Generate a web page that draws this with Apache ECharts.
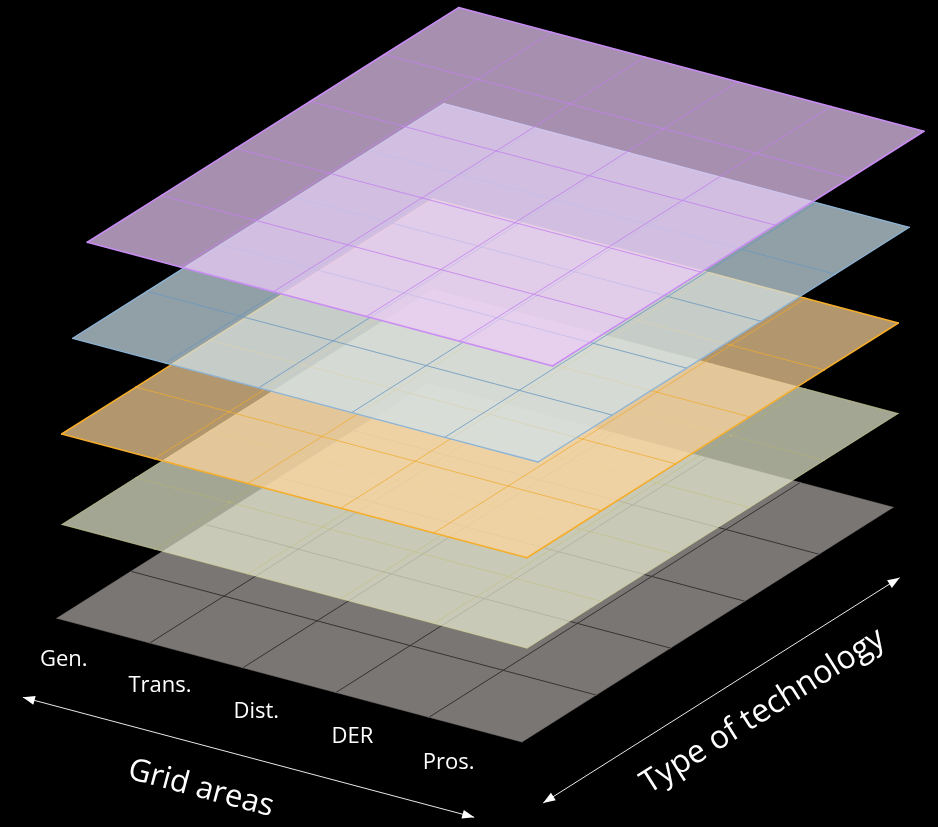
<!DOCTYPE html>
<html>
<head>
<meta charset="utf-8">
<script src="https://cdn.jsdelivr.net/npm/echarts@6/dist/echarts.min.js"></script>
<style>
  html, body { margin: 0; padding: 0; background: #000; }
  #chart { width: 938px; height: 827px; }
</style>
</head>
<body>
<div id="chart"></div>
<script>
// ---------- data ----------
const gridAreas = ['Gen.', 'Trans.', 'Dist.', 'DER', 'Pros.'];
const technologyRows = [0, 1, 2, 3, 4];
const layerNames = ['base', 'green', 'orange', 'blue', 'purple'];
const axisTitles = ['Grid areas', 'Type of technology'];

// ---------- layout (projection of the layered planes) ----------
const ORIGIN = [56.7, 618.3];
const E1 = [93.06, 24.74];   // one grid-area column
const E2 = [74.26, -46.94];  // one technology row
const LAYER_SHIFT = [[0, 0], [5, -93.8], [5, -184.3], [16, -280], [30.6, -376]];
function proj(u, v, k) {
  const s = LAYER_SHIFT[k || 0];
  return [ORIGIN[0] + u * E1[0] + v * E2[0] + s[0],
          ORIGIN[1] + u * E1[1] + v * E2[1] + s[1]];
}

const layerStyles = [
  { fill: '#7a7674', line: '#3a3838', lw: 1, border: '#7a7674', bw: 0.5 },
  { fill: 'rgba(233,237,211,0.70)', line: 'rgba(205,205,130,0.5)', lw: 1, border: 'rgba(215,215,150,0.6)', bw: 1 },
  { fill: 'rgba(254,214,157,0.70)', line: 'rgba(242,176,60,0.85)', lw: 1, border: '#f5ad2c', bw: 1.6 },
  { fill: 'rgba(207,226,236,0.70)', line: 'rgba(118,160,196,0.9)', lw: 1, border: '#8db4d6', bw: 1.3 },
  { fill: 'rgba(236,204,250,0.70)', line: 'rgba(198,136,240,0.9)', lw: 1, border: '#c98cf5', bw: 1.6 }
];

const NC = gridAreas.length, NR = technologyRows.length;

function seg(a, b, stroke, lw, z2) {
  return { type: 'line', z2: z2, shape: { x1: a[0], y1: a[1], x2: b[0], y2: b[1] },
           style: { stroke: stroke, lineWidth: lw, lineCap: 'round' } };
}

function renderCell(params, api) {
  const k = api.value(0), c = api.value(1), r = api.value(2);
  const st = layerStyles[k];
  const pt = (u, v) => api.coord(proj(u, v, k));
  const ch = [{
    type: 'polygon', z2: 0,
    shape: { points: [pt(c, r), pt(c + 1, r), pt(c + 1, r + 1), pt(c, r + 1)] },
    style: { fill: st.fill }
  }];
  if (c > 0) ch.push(seg(pt(c, r), pt(c, r + 1), st.line, st.lw, 1));
  if (r > 0) ch.push(seg(pt(c, r), pt(c + 1, r), st.line, st.lw, 1));
  if (c === 0) ch.push(seg(pt(0, r), pt(0, r + 1), st.border, st.bw, 2));
  if (c === NC - 1) ch.push(seg(pt(NC, r), pt(NC, r + 1), st.border, st.bw, 2));
  if (r === 0) ch.push(seg(pt(c, 0), pt(c + 1, 0), st.border, st.bw, 2));
  if (r === NR - 1) ch.push(seg(pt(c, NR), pt(c + 1, NR), st.border, st.bw, 2));
  return { type: 'group', children: ch };
}

const series = [];
layerNames.forEach((name, k) => {
  const cells = [];
  gridAreas.forEach((g, c) => technologyRows.forEach((t, r) => cells.push([k, c, r])));
  series.push({
    name: name, type: 'custom', coordinateSystem: 'cartesian2d',
    z: 10 + k, silent: true, animation: false,
    renderItem: renderCell, data: cells
  });
});

// grid-area labels
series.push({
  type: 'custom', coordinateSystem: 'cartesian2d', z: 30, silent: true, animation: false,
  data: gridAreas.map((g, i) => [i]),
  renderItem: function (params, api) {
    const i = api.value(0);
    const p = api.coord(proj(0.555 + i * 1.034, -0.6, 0));
    return { type: 'text', x: p[0], y: p[1],
      style: { text: gridAreas[i], fill: '#ffffff', font: '22px "Open Sans", "Noto Sans", sans-serif',
               align: 'center', verticalAlign: 'middle' } };
  }
});

// axis arrows and titles
const ARROWS = [
  { from: [0.69, -1.32], to: [5.54, -1.32], title: [3.13, -1.98], size: 31, rot: -Math.atan2(E1[1], E1[0]) },
  { from: [5.89, -0.83], to: [5.89, 3.97], title: [6.456, 1.42], size: 32, rot: Math.atan2(-E2[1], E2[0]) }
];
function head(tip, dir, len, hw) {
  const n = Math.hypot(dir[0], dir[1]);
  const d = [dir[0] / n, dir[1] / n];
  const b = [tip[0] - d[0] * len, tip[1] - d[1] * len];
  return { type: 'polygon', shape: { points: [tip, [b[0] - d[1] * hw, b[1] + d[0] * hw], [b[0] + d[1] * hw, b[1] - d[0] * hw]] },
           style: { fill: '#ffffff' } };
}
series.push({
  type: 'custom', coordinateSystem: 'cartesian2d', z: 30, silent: true, animation: false,
  data: axisTitles.map((t, i) => [i]),
  renderItem: function (params, api) {
    const i = api.value(0);
    const a = ARROWS[i];
    const p1 = api.coord(proj(a.from[0], a.from[1], 0));
    const p2 = api.coord(proj(a.to[0], a.to[1], 0));
    const tp = api.coord(proj(a.title[0], a.title[1], 0));
    const dir = [p2[0] - p1[0], p2[1] - p1[1]];
    return { type: 'group', children: [
      { type: 'line', shape: { x1: p1[0], y1: p1[1], x2: p2[0], y2: p2[1] }, style: { stroke: '#e8e8e8', lineWidth: 1 } },
      head(p2, dir, 12, 4.5),
      head(p1, [-dir[0], -dir[1]], 12, 4.5),
      { type: 'text', x: tp[0], y: tp[1], rotation: a.rot,
        style: { text: axisTitles[i], fill: '#ffffff', font: a.size + 'px "Open Sans", "Noto Sans", sans-serif',
                 align: 'center', verticalAlign: 'middle' } }
    ] };
  }
});

const chart = echarts.init(document.getElementById('chart'), null, { renderer: 'canvas' });
chart.setOption({
  backgroundColor: '#000000',
  animation: false,
  grid: { left: 0, right: 0, top: 0, bottom: 0 },
  xAxis: { type: 'value', min: 0, max: 938, show: false },
  yAxis: { type: 'value', min: 0, max: 827, inverse: true, show: false },
  series: series
});
</script>
</body>
</html>
